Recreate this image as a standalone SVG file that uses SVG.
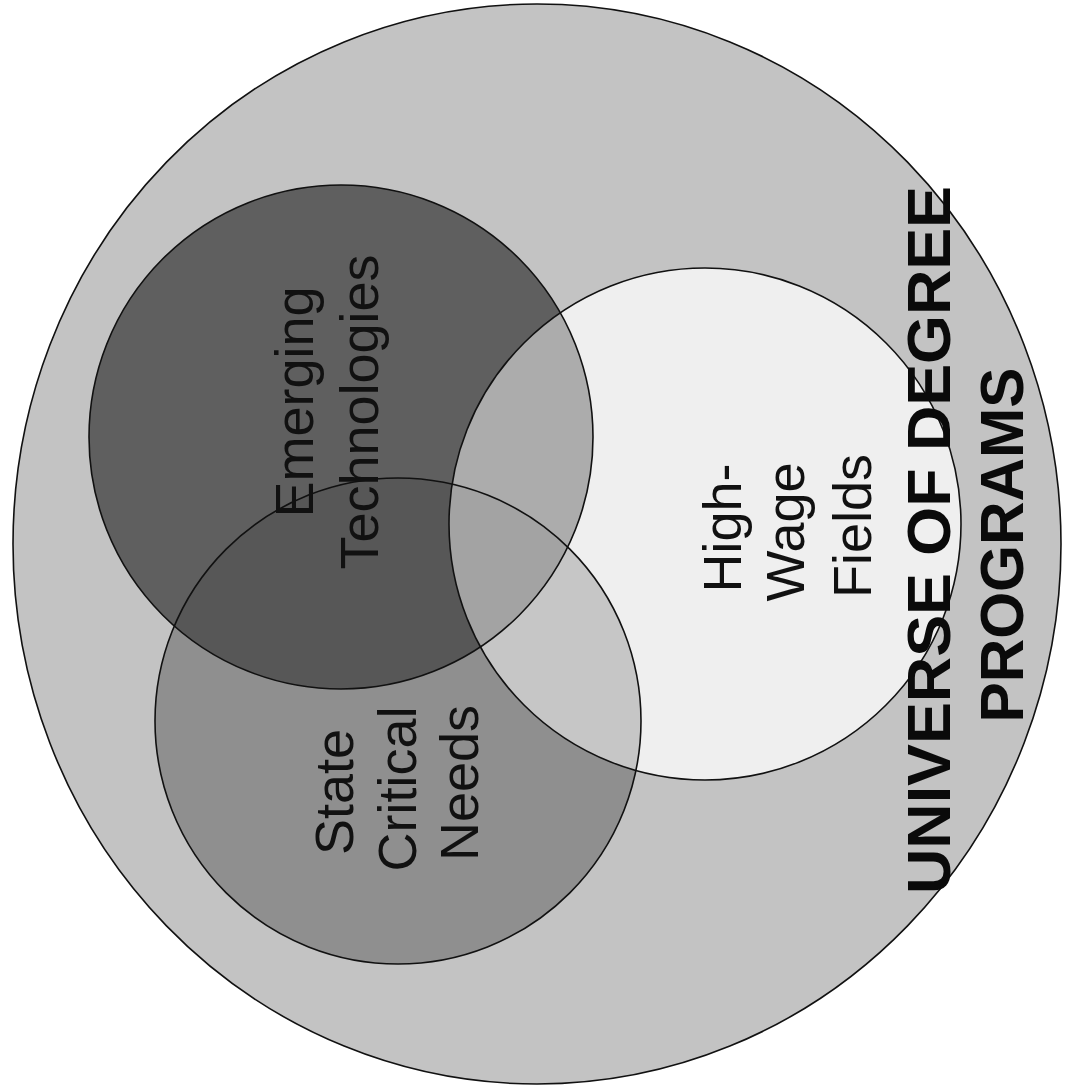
<svg xmlns="http://www.w3.org/2000/svg" width="1067" height="1092" viewBox="0 0 1067 1092">
<style>
.outline{fill:none;stroke:#111;stroke-width:1.6}
.lbl{font-family:"Liberation Sans",Arial,sans-serif;font-size:54px;fill:#111;text-anchor:middle}
.big{font-family:"Liberation Sans",Arial,sans-serif;font-size:62px;font-weight:bold;fill:#0a0a0a;text-anchor:middle}
</style>
<defs>
<clipPath id="clipE"><circle cx="341" cy="437" r="252"/></clipPath>
<clipPath id="clipHW"><circle cx="705" cy="524" r="256"/></clipPath>
</defs>
<rect width="1067" height="1092" fill="#ffffff"/>
<g id="universe">
<ellipse cx="537" cy="544" rx="524" ry="540" fill="#c3c3c3"/>
</g>
<g id="emerging">
<circle cx="341" cy="437" r="252" fill="#5f5f5f"/>
</g>
<g id="state">
<circle cx="398" cy="721" r="243" fill="#8f8f8f"/>
</g>
<g id="highwage">
<circle cx="705" cy="524" r="256" fill="#efefef"/>
</g>
<g id="overlaps">
<circle cx="398" cy="721" r="243" fill="#575757" clip-path="url(#clipE)"/>
<circle cx="341" cy="437" r="252" fill="#acacac" clip-path="url(#clipHW)"/>
<circle cx="398" cy="721" r="243" fill="#c6c6c6" clip-path="url(#clipHW)"/>
<g clip-path="url(#clipHW)"><circle cx="398" cy="721" r="243" fill="#a3a3a3" clip-path="url(#clipE)"/></g>
</g>
<g id="outlines">
<ellipse class="outline" cx="537" cy="544" rx="524" ry="540"/>
<circle class="outline" cx="341" cy="437" r="252"/>
<circle class="outline" cx="398" cy="721" r="243"/>
<circle class="outline" cx="705" cy="524" r="256"/>
</g>
<g id="connectors"/>
<g id="labels">
<text class="lbl" transform="translate(313,402) rotate(-90)">Emerging</text>
<text class="lbl" transform="translate(378,412) rotate(-90)">Technologies</text>
<text class="lbl" transform="translate(353,792) rotate(-90)">State</text>
<text class="lbl" transform="translate(416,789) rotate(-90)">Critical</text>
<text class="lbl" transform="translate(478,783) rotate(-90)">Needs</text>
<text class="lbl" transform="translate(741,528) rotate(-90)">High-</text>
<text class="lbl" transform="translate(804,532) rotate(-90)">Wage</text>
<text class="lbl" transform="translate(871,526) rotate(-90)">Fields</text>
<text class="big" transform="translate(950,540) rotate(-90)" textLength="708" lengthAdjust="spacingAndGlyphs">UNIVERSE OF DEGREE</text>
<text class="big" transform="translate(1023,545) rotate(-90)" textLength="355" lengthAdjust="spacingAndGlyphs">PROGRAMS</text>
</g>
</svg>
